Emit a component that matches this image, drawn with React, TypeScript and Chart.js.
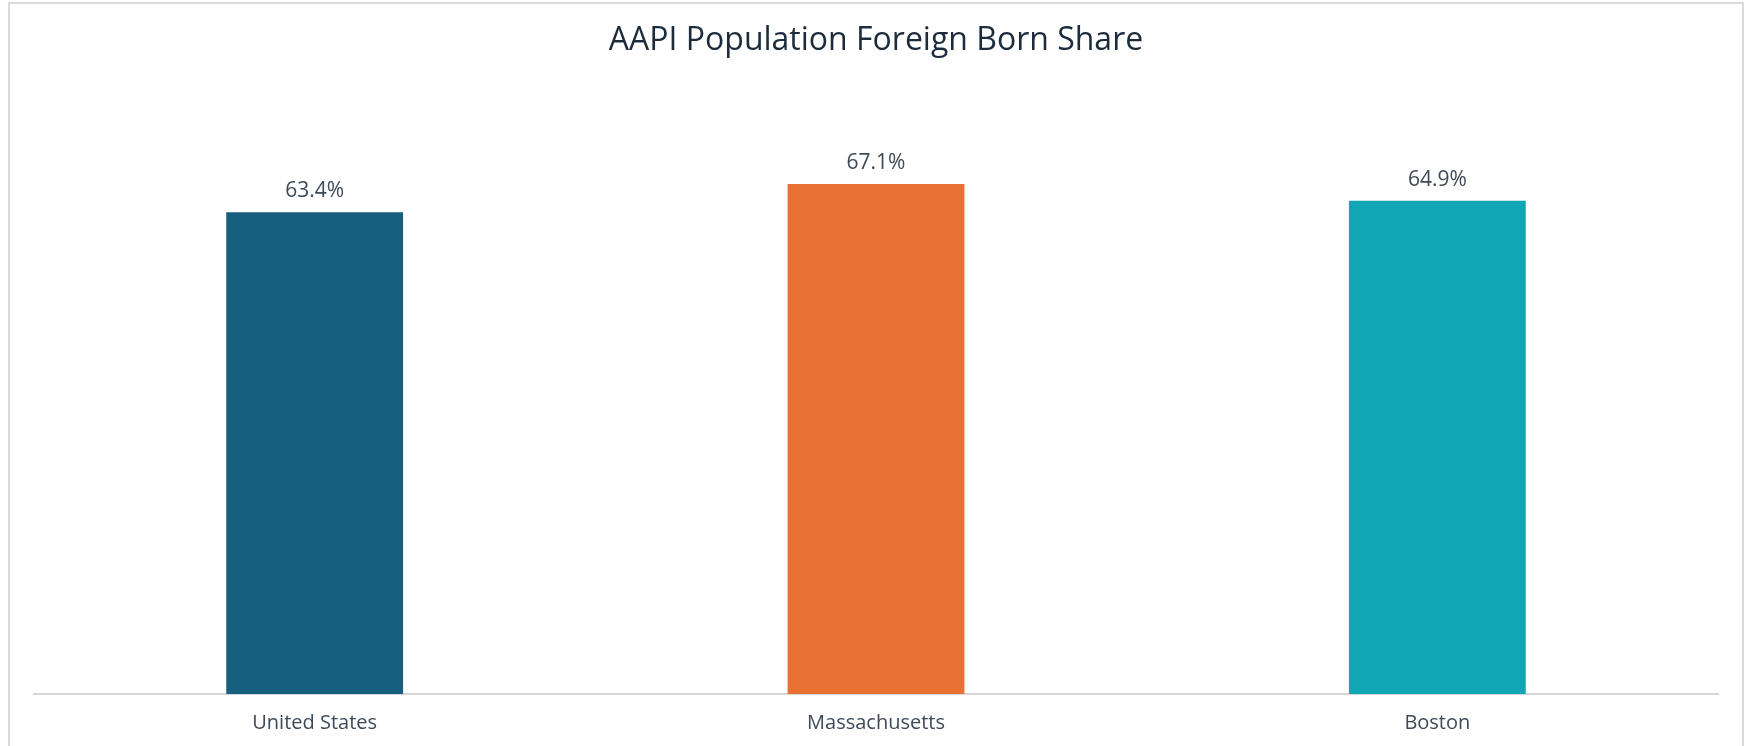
import React, { useEffect, useRef } from "react";
import { Chart, registerables } from "chart.js";

Chart.register(...registerables);

const categories = ["United States", "Massachusetts", "Boston"];
const foreignBornShare = [63.4, 67.1, 64.9];
const barColors = ["#175f7f", "#e87133", "#11a6b3"];
const chartTitle = "AAPI Population Foreign Born Share";

const FONT = "'Open Sans', 'Noto Sans', sans-serif";

const valueLabelPlugin = {
  id: "valueLabels",
  afterDatasetsDraw(chart: any) {
    const ctx = chart.ctx;
    const meta = chart.getDatasetMeta(0);
    ctx.save();
    ctx.font = `21px ${FONT}`;
    ctx.fillStyle = "#3e4a58";
    ctx.textAlign = "center";
    ctx.textBaseline = "middle";
    meta.data.forEach((bar: any, i: number) => {
      const v = chart.data.datasets[0].data[i] as number;
      ctx.fillText(`${v.toFixed(1)}%`, bar.x, bar.y - 21);
    });
    ctx.restore();
  },
};

export default function App() {
  const canvasRef = useRef<HTMLCanvasElement | null>(null);

  useEffect(() => {
    if (!canvasRef.current) return;
    const chart = new Chart(canvasRef.current, {
      type: "bar",
      data: {
        labels: categories,
        datasets: [
          {
            data: foreignBornShare,
            backgroundColor: barColors,
            borderWidth: 0,
            barPercentage: 0.315,
            categoryPercentage: 1,
          },
        ],
      },
      options: {
        responsive: false,
        animation: false,
        maintainAspectRatio: false,
        layout: { padding: { left: 34, right: 30, top: 0, bottom: 0 } },
        plugins: {
          legend: { display: false },
          tooltip: { enabled: false },
          title: {
            display: true,
            text: chartTitle,
            color: "#1d2c3c",
            font: { family: FONT, size: 32, weight: "normal", lineHeight: 1.2 },
            padding: { top: 21.8, bottom: 25.8 },
          },
        },
        scales: {
          x: {
            grid: { display: false, drawTicks: false },
            border: { display: true, color: "#d6d6d6", width: 2 },
            ticks: {
              color: "#3e4a58",
              font: { family: FONT, size: 20 },
              padding: 17,
            },
            afterFit: (scale: any) => {
              scale.height = 52;
            },
          },
          y: {
            display: false,
            min: 0,
            max: 80,
          },
        },
      },
      plugins: [valueLabelPlugin],
    });
    return () => chart.destroy();
  }, []);

  return (
    <div style={{ position: "fixed", left: 0, top: 0, width: 1748, height: 746, background: "#ffffff", overflow: "hidden" }}>
      <div
        style={{
          position: "absolute",
          left: 8,
          top: 2,
          width: 1732,
          height: 800,
          border: "2px solid #dadada",
        }}
      />
      <canvas ref={canvasRef} width={1748} height={746} style={{ position: "absolute", left: 0, top: 0 }} />
    </div>
  );
}
